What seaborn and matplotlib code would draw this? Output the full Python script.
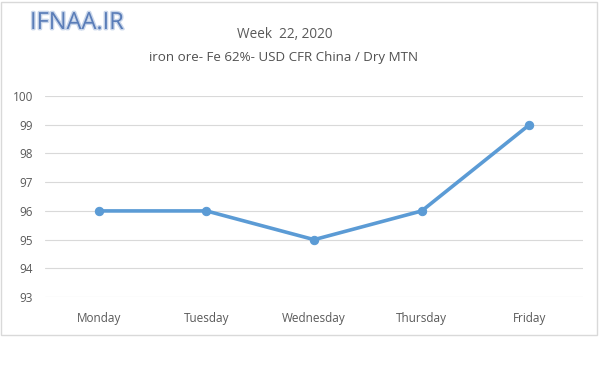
import matplotlib
matplotlib.use("Agg")
import matplotlib.pyplot as plt
import seaborn as sns
import pandas as pd
from matplotlib.patches import Rectangle
import matplotlib.patheffects as pe

days = ["Monday", "Tuesday", "Wednesday", "Thursday", "Friday"]
prices = [96, 96, 95, 96, 99]
yticks = [93, 94, 95, 96, 97, 98, 99, 100]

sns.set_theme(style="white")
plt.rcParams['font.family'] = ['Open Sans', 'DejaVu Sans']

df = pd.DataFrame({"day": days, "price": prices})

fig = plt.figure(figsize=(6, 3.7), dpi=100)
ax = fig.add_axes([0.075, 0.197, 0.897, 0.5435])

sns.lineplot(data=df, x="day", y="price", ax=ax, color="#5B9BD5", linewidth=2.6,
             marker="o", markersize=6, markeredgecolor="#5B9BD5", sort=False)

ax.set_xlim(-0.5, len(days) - 0.5)
ax.set_ylim(93, 100)
ax.set_yticks(yticks)
ax.set_yticklabels([str(v) for v in yticks])
ax.grid(axis="y", color="#D9D9D9", linewidth=0.8)
ax.set_axisbelow(True)
for s in ax.spines.values():
    s.set_visible(False)
ax.set_xlabel("")
ax.set_ylabel("")
ax.tick_params(axis="both", length=0, labelsize=8.5, labelcolor="#595959")
ax.tick_params(axis="y", pad=8.5)
ax.tick_params(axis="x", pad=11)

fig.patches.append(Rectangle((0.002, 1 - 335 / 370), 0.993, 333 / 370,
                             transform=fig.transFigure, fill=False,
                             edgecolor="#D9D9D9", linewidth=1.0))

fig.text(0.474, 1 - 35 / 370, "Week  22, 2020", ha="center", va="center",
         fontsize=9.8, color="#595959")
fig.text(0.473, 1 - 57 / 370, "iron ore- Fe 62%- USD CFR China / Dry MTN",
         ha="center", va="center", fontsize=9.6, color="#505050")
fig.text(0.05, 1 - 23 / 370, "IFNAA.IR", ha="left", va="center", fontsize=17,
         color="#5A7DB8",
         path_effects=[pe.withStroke(linewidth=2, foreground="#C9D6EA")])

fig.savefig("out.png", dpi=100, facecolor="white")
